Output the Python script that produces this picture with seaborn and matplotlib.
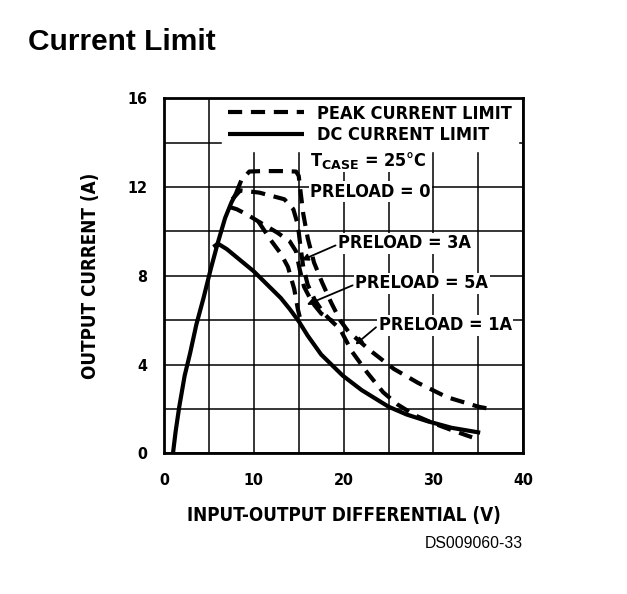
import matplotlib
matplotlib.use("Agg")
import matplotlib.pyplot as plt
from matplotlib import font_manager
from matplotlib.lines import Line2D
import seaborn as sns
import pandas as pd

# ---------------- data ----------------
x_ticks = [0, 10, 20, 30, 40]
y_ticks = [0, 4, 8, 12, 16]

# shared rising envelope (solid)
env_x = [1.0, 1.3, 1.7, 2.3, 2.9, 3.6, 4.4, 5.2, 6.0, 6.8, 7.5, 8.0]
env_y = [0.0, 1.0, 2.1, 3.5, 4.5, 5.8, 7.0, 8.3, 9.5, 10.6, 11.3, 11.7]

# DC current limit (solid)
dc_x = [5.5, 6.0, 7.0, 8.5, 10.0, 11.5, 13.0, 14.0, 15.0, 16.0, 17.5, 19.9, 22.0, 25.0, 27.0, 29.3, 32.0, 35.2]
dc_y = [9.3, 9.45, 9.2, 8.7, 8.2, 7.6, 7.0, 6.5, 5.95, 5.3, 4.45, 3.5, 2.85, 2.1, 1.75, 1.45, 1.15, 0.93]

# peak current limit, preload = 0 (dashed)
p0_x = [8.0, 8.6, 9.5, 11.0, 13.0, 14.7, 15.0, 15.2, 15.5, 16.0, 16.7, 17.6, 18.6, 19.6, 20.5, 22.9, 25.6, 28.3, 31.5, 35.0, 36.3]
p0_y = [11.7, 12.3, 12.7, 12.72, 12.72, 12.7, 12.5, 11.8, 10.8, 9.7, 8.6, 7.7, 6.8, 6.0, 5.5, 4.65, 3.8, 3.17, 2.53, 2.1, 2.0]

# peak current limit, preload = 1A (dashed)
p1_x = [7.6, 8.5, 10.6, 13.4, 14.4, 14.9, 15.2, 15.5, 16.0, 16.8, 17.8, 18.8, 19.6, 20.9, 22.6, 24.4, 26.0, 28.0, 30.0, 32.0, 34.3]
p1_y = [11.45, 11.85, 11.75, 11.45, 11.0, 10.3, 9.3, 8.4, 7.6, 6.9, 6.3, 5.9, 5.6, 4.6, 3.65, 2.75, 2.2, 1.7, 1.35, 1.05, 0.72]

# peak current limit, preload = 3A (dashed)
p3_x = [7.3, 8.1, 9.3, 10.5, 12.6, 14.0, 14.7, 15.1, 15.6, 16.5, 17.5, 18.8]
p3_y = [11.1, 11.0, 10.75, 10.45, 9.95, 9.55, 9.1, 8.3, 7.5, 6.8, 6.3, 5.95]

# peak current limit, preload = 5A (dashed)
p5_x = [10.5, 11.9, 13.0, 13.8, 14.5, 14.9, 15.2]
p5_y = [10.45, 9.6, 9.0, 8.4, 7.4, 6.5, 6.0]

legend_labels = ["PEAK CURRENT LIMIT", "DC CURRENT LIMIT"]
preload_labels = ["PRELOAD = 0", "PRELOAD = 3A", "PRELOAD = 5A", "PRELOAD = 1A"]
# text anchor (data coords) and arrow tip for each preload label (None = no arrow)
preload_text_xy = [(16.3, 11.78), (19.4, 9.47), (21.3, 7.67), (23.9, 5.78)]
preload_arrow_tip = [None, (15.3, 8.7), (15.9, 6.7), (21.3, 4.9)]

# ---------------- style ----------------
sns.set_theme(style="white")
names = {f.name for f in font_manager.fontManager.ttflist}
if "Liberation Sans Narrow" in names:
    narrow = "Liberation Sans Narrow"
    stretch = "normal"
else:
    narrow = "DejaVu Sans"
    stretch = "condensed"
arial = "Liberation Sans" if "Liberation Sans" in names else "DejaVu Sans"

plt.rcParams["font.family"] = [narrow, "DejaVu Sans"]
plt.rcParams["text.color"] = "black"
plt.rcParams["mathtext.fontset"] = "custom"
plt.rcParams["mathtext.rm"] = f"{narrow}:bold"
plt.rcParams["mathtext.bf"] = f"{narrow}:bold"
plt.rcParams["mathtext.it"] = f"{narrow}:bold"

fig = plt.figure(figsize=(6.27, 5.94), dpi=100)
ax = fig.add_axes([164 / 627, 1 - 453.3 / 594, (523.3 - 164) / 627, (453.3 - 98.3) / 594])

LW = 3.0
DASH = (0, (3.4, 2.1))

def draw(xs, ys, dashed):
    df = pd.DataFrame({"x": xs, "y": ys})
    sns.lineplot(data=df, x="x", y="y", sort=False, estimator=None, ax=ax,
                 color="black", lw=LW, linestyle=DASH if dashed else "-",
                 solid_capstyle="butt", dash_capstyle="butt", zorder=3)

draw(env_x, env_y, False)
draw(dc_x, dc_y, False)
draw(p0_x, p0_y, True)
draw(p1_x, p1_y, True)
draw(p3_x, p3_y, True)
draw(p5_x, p5_y, True)

ax.set_xlim(0, 40)
ax.set_ylim(0, 16)
ax.set_xticks(x_ticks)
ax.set_yticks(y_ticks)
ax.set_xticks([5, 15, 25, 35], minor=True)
ax.set_yticks([2, 6, 10, 14], minor=True)
ax.grid(True, which="both", color="black", lw=1.1)
ax.set_axisbelow(True)
for s in ax.spines.values():
    s.set_color("black")
    s.set_linewidth(2.0)
    s.set_zorder(5)
ax.tick_params(which="both", length=0)
ax.tick_params(axis="x", pad=14)
ax.tick_params(axis="y", pad=12)
for lab in ax.get_xticklabels() + ax.get_yticklabels():
    lab.set_fontsize(11.5)
    lab.set_fontweight("bold")
    lab.set_fontstretch(stretch)
    lab.set_color("black")

ax.set_xlabel("INPUT-OUTPUT DIFFERENTIAL (V)", fontsize=13.5, fontweight="bold",
              fontstretch=stretch, color="black", labelpad=13)
ax.set_ylabel("OUTPUT CURRENT (A)", fontsize=13.5, fontweight="bold",
              fontstretch=stretch, color="black", labelpad=20)

handles = [Line2D([], [], color="black", lw=LW, linestyle=DASH, dash_capstyle="butt"),
           Line2D([], [], color="black", lw=LW, solid_capstyle="butt")]
leg = ax.legend(handles, legend_labels, loc="upper left",
                bbox_to_anchor=((222 - 164) / 359.3, 1.0), frameon=True,
                facecolor="white", edgecolor="white", framealpha=1.0,
                prop={"family": narrow, "weight": "bold", "size": 13, "stretch": stretch},
                handlelength=4.2, handletextpad=0.7, labelspacing=0.2,
                borderpad=0.35, borderaxespad=0.0, fancybox=False)
for t in leg.get_texts():
    t.set_color("black")
leg.set_zorder(4)

box = dict(facecolor="white", edgecolor="none", pad=1.0)
ax.text(16.2, 13.2, r"T$_{\mathrm{CASE}}$ = 25°C", fontsize=13, fontweight="bold",
        fontstretch=stretch, ha="left", va="center", color="black", bbox=box, zorder=6)

for lab, (tx, ty), tip in zip(preload_labels, preload_text_xy, preload_arrow_tip):
    ax.text(tx, ty, lab, fontsize=13, fontweight="bold", fontstretch=stretch,
            ha="left", va="center", color="black", bbox=box, zorder=6)
    if tip is not None:
        ax.annotate("", xy=tip, xytext=(tx - 0.3, ty - 0.1),
                    arrowprops=dict(arrowstyle="-|>", color="black", lw=1.3,
                                    mutation_scale=10, shrinkA=0, shrinkB=0),
                    zorder=6)

fig.text(28 / 627, 1 - 42.5 / 594, "Current Limit", fontsize=21.5, fontweight="bold",
         family=arial, ha="left", va="center", color="black")
fig.text(523 / 627, 1 - 544 / 594, "DS009060-33", fontsize=11.3, family=arial,
         ha="right", va="center", color="black")

fig.savefig("out.png", dpi=100, facecolor="white")
